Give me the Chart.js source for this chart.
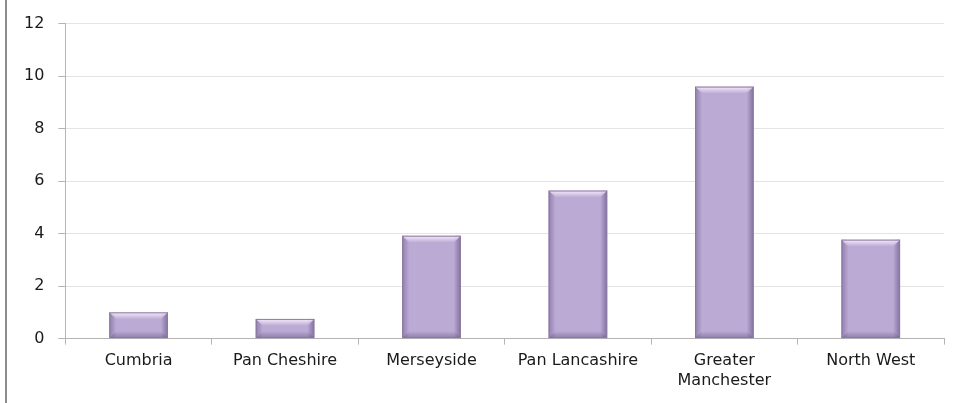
<!DOCTYPE html>
<html>
<head>
<meta charset="utf-8">
<script src="https://cdn.jsdelivr.net/npm/chart.js@4"></script>
<style>
    html, body { margin: 0; padding: 0; background: #fff; }
    #wrap { position: relative; width: 956px; height: 403px; }
    #wrap::before {
        content: '';
        position: absolute;
        left: 5px; top: 0; bottom: 0;
        width: 2px;
        background: #8c8c8c;
    }
</style>
</head>
<body>
<div id="wrap"><canvas id="barChart" width="956" height="403"></canvas></div>
<script>
const categories = ['Cumbria', 'Pan Cheshire', 'Merseyside', 'Pan Lancashire', ['Greater', 'Manchester'], 'North West'];
const values = [1.0, 0.75, 3.92, 5.64, 9.6, 3.77];
const yTicks = [0, 2, 4, 6, 8, 10, 12];

// paints the bevel look of the Excel bars on top of the flat fill
const bevelPlugin = {
    id: 'bevel',
    afterDatasetsDraw(chart) {
        const c = chart.ctx;
        chart.getDatasetMeta(0).data.forEach(bar => {
            const { x, y, base, width } = bar.getProps(['x', 'y', 'base', 'width'], true);
            const l = x - width / 2, r = x + width / 2, h = base - y;
            const e = Math.min(7, h / 2);
            c.save();
            // left edge
            let g = c.createLinearGradient(l, 0, l + e, 0);
            g.addColorStop(0, 'rgba(110,90,140,0.55)');
            g.addColorStop(1, 'rgba(110,90,140,0)');
            c.fillStyle = g;
            c.fillRect(l, y, e, h);
            // right edge
            g = c.createLinearGradient(r - e, 0, r, 0);
            g.addColorStop(0, 'rgba(100,80,130,0)');
            g.addColorStop(1, 'rgba(100,80,130,0.65)');
            c.fillStyle = g;
            c.fillRect(r - e, y, e, h);
            // top highlight
            g = c.createLinearGradient(0, y, 0, y + e);
            g.addColorStop(0, 'rgba(252,238,255,0.95)');
            g.addColorStop(1, 'rgba(252,238,255,0)');
            c.fillStyle = g;
            c.beginPath();
            c.moveTo(l, y); c.lineTo(r, y); c.lineTo(r - e, y + e); c.lineTo(l + e, y + e);
            c.closePath();
            c.fill();
            // bottom shade
            g = c.createLinearGradient(0, base - e, 0, base);
            g.addColorStop(0, 'rgba(100,80,130,0)');
            g.addColorStop(1, 'rgba(100,80,130,0.5)');
            c.fillStyle = g;
            c.beginPath();
            c.moveTo(l, base); c.lineTo(r, base); c.lineTo(r - e, base - e); c.lineTo(l + e, base - e);
            c.closePath();
            c.fill();
            c.strokeStyle = '#8a7aa2';
            c.lineWidth = 1;
            c.strokeRect(l + 0.5, y + 0.5, width - 1, h - 1);
            c.restore();
        });
    }
};

const ctx = document.getElementById('barChart').getContext('2d');
new Chart(ctx, {
    type: 'bar',
    data: {
        labels: categories,
        datasets: [{
            data: values,
            backgroundColor: '#baaad4',
            borderWidth: 0,
            barPercentage: 0.4,
            categoryPercentage: 1.0
        }]
    },
    options: {
        responsive: false,
        animation: false,
        layout: { padding: { left: 10, right: 12, top: 15, bottom: 6 } },
        plugins: {
            legend: { display: false },
            tooltip: { enabled: false }
        },
        scales: {
            y: {
                min: 0,
                max: 12,
                afterBuildTicks: axis => { axis.ticks = yTicks.map(v => ({ value: v })); },
                ticks: {
                    color: '#1a1a1a',
                    padding: 14,
                    font: { family: 'DejaVu Sans', size: 16 }
                },
                grid: {
                    color: '#e4e4e4',
                    tickColor: '#b4b4b4',
                    tickLength: 7
                },
                border: { color: '#b4b4b4', width: 1 }
            },
            x: {
                ticks: {
                    color: '#1a1a1a',
                    padding: 7,
                    font: { family: 'DejaVu Sans', size: 16 }
                },
                grid: {
                    display: true,
                    drawOnChartArea: false,
                    offset: true,
                    tickColor: '#b4b4b4',
                    tickLength: 6
                },
                border: { color: '#b4b4b4', width: 1 }
            }
        }
    },
    plugins: [bevelPlugin]
});
</script>
</body>
</html>
